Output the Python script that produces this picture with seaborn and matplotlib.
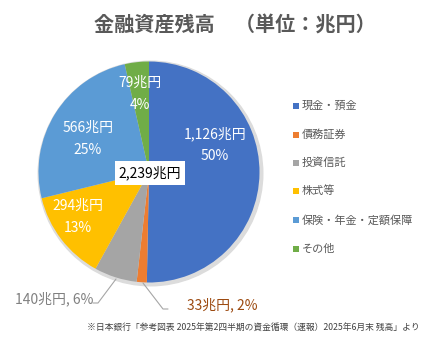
import matplotlib
matplotlib.use("Agg")
import matplotlib.pyplot as plt
import seaborn as sns
import numpy as np

categories = ["現金・預金", "債務証券", "投資信託", "株式等", "保険・年金・定額保障", "その他"]
values = [1126, 33, 140, 294, 566, 79]
percents = [50, 2, 6, 13, 25, 4]
total_label = "2,239兆円"
colors = ["#4472C4", "#ED7D31", "#A5A5A5", "#FFC000", "#5B9BD5", "#70AD47"]

sns.set_theme(style="white")
plt.rcParams['font.family'] = ['Noto Sans CJK JP', 'DejaVu Sans']

W, H = 430, 341
fig = plt.figure(figsize=(W / 100, H / 100), dpi=100)
ax = fig.add_axes([0, 0, 1, 1])

cx, cy, r = 149, H - 172, 110.5

# subtle shadow
shadow = plt.Circle((cx + 1.5, cy - 1.5), r + 1.8, color="#dcdcdc", zorder=0)
ax.add_patch(shadow)

wedges, _ = ax.pie(values, colors=colors, startangle=90, counterclock=False,
                   center=(cx, cy), radius=r, frame=True,
                   wedgeprops=dict(linewidth=0))
ax.set_xlim(0, W)
ax.set_ylim(0, H)
ax.set_aspect('equal')
ax.axis('off')

def P(px, py):
    return px, H - py

def fmt(v):
    return f"{v:,}兆円"

# inside labels: (index, pixel center)
inside = {0: (215, 145), 5: (140, 94), 4: (88, 139), 3: (78, 217)}
for i, (px, py) in inside.items():
    x, y = P(px, py)
    ax.text(x, y, f"{fmt(values[i])}\n{percents[i]}%", ha="center", va="center",
            color="white", fontsize=10, linespacing=1.7)

# outside labels with leader lines
x, y = P(93, 299)
ax.text(x, y, f"{fmt(values[2])}, {percents[2]}%", ha="right", va="center",
        color="#808080", fontsize=10)
ax.plot(*zip(P(93, 303), P(98, 303), P(116, 279)), color="#a6a6a6", lw=0.8)

x, y = P(187, 305)
ax.text(x, y, f"{fmt(values[1])}, {percents[1]}%", ha="left", va="center",
        color="#9C4A10", fontsize=10)
ax.plot(*zip(P(143, 283), P(163, 309), P(168, 309)), color="#a6a6a6", lw=0.8)

# center total box
x, y = P(150, 173)
ax.text(x, y, total_label, ha="center", va="center", color="black", fontsize=10,
        bbox=dict(boxstyle="square,pad=0.3", fc="white", ec="none"))

# title
x, y = P(235, 25)
ax.text(x, y, "金融資産残高　（単位：兆円）", ha="center", va="center",
        color="#595959", fontsize=14.5, fontweight="bold")

# legend
ys = [106, 135, 163, 191, 220, 249]
for c, lab, py in zip(colors, categories, ys):
    x, y = P(296, py)
    ax.add_patch(plt.Rectangle((x - 3, y - 3), 6, 6, color=c, lw=0))
    ax.text(x + 6, y, lab, ha="left", va="center", color="#595959", fontsize=8)

# footnote
x, y = P(420, 327)
ax.text(x, y, "※日本銀行「参考図表 2025年第2四半期の資金循環（速報）2025年6月末 残高」より",
        ha="right", va="center", color="#404040", fontsize=6.3)

fig.savefig("out.png", dpi=100, facecolor="white")
